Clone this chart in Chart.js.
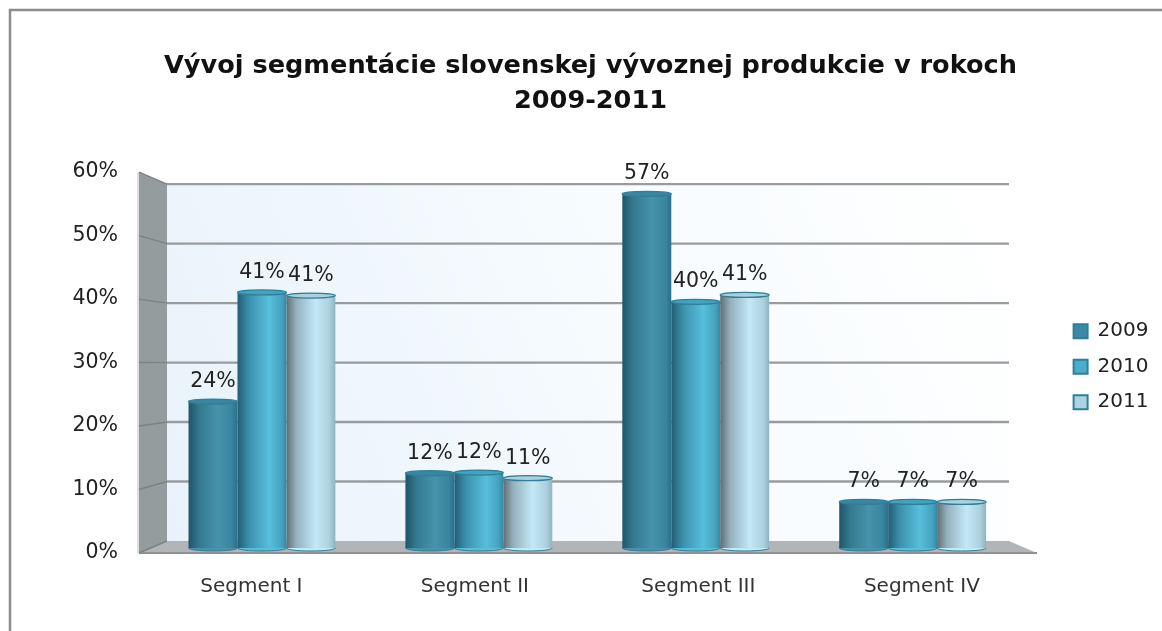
<!DOCTYPE html>
<html><head><meta charset="utf-8">
<script src="https://cdn.jsdelivr.net/npm/chart.js@4"></script>
<style>html,body{margin:0;padding:0;background:#fff}canvas{display:block}</style>
</head><body><canvas id="c" width="1162" height="631"></canvas>
<script>
const categories = ['Segment I','Segment II','Segment III','Segment IV'];
const seriesNames = ['2009','2010','2011'];
const values2009 = [23.5, 12, 56.8, 7.4];
const values2010 = [41, 12.1, 39.5, 7.4];
const values2011 = [40.5, 11.2, 40.6, 7.4];
const tickValues = [0,10,20,30,40,50,60];
const titleLines = ['Vývoj segmentácie slovenskej vývoznej produkcie v rokoch','2009-2011'];

const FONT = '"DejaVu Sans"';
const solid = ['#3a8aa6','#49aecb','#add2e0'];
const stops = [
  [[0,'#1f5568'],[.22,'#34798f'],[.6,'#4693ab'],[.88,'#3a859f'],[1,'#2a7089']],
  [[0,'#235e74'],[.25,'#3d93ae'],[.65,'#57bedb'],[.9,'#45a3c0'],[1,'#37879f']],
  [[0,'#5f6d73'],[.2,'#94b0bc'],[.6,'#c3e8f6'],[.88,'#acd0dd'],[1,'#8fb4c0']]
];
const CAT_FRAC = 0.677;
function barGeom(chart, di, i){
  const xs = chart.scales.x;
  const band = xs.getPixelForValue(1)-xs.getPixelForValue(0);
  const w = band*CAT_FRAC/3;
  const cx = xs.getPixelForValue(i)+(di-1)*w;
  return {cx,w};
}
function fill(c){
  if(c.type!=='data') return solid[c.datasetIndex];
  const g = barGeom(c.chart,c.datasetIndex,c.dataIndex);
  const gr = c.chart.ctx.createLinearGradient(g.cx-g.w/2,0,g.cx+g.w/2,0);
  stops[c.datasetIndex].forEach(s=>gr.addColorStop(s[0],s[1]));
  return gr;
}
const walls = {
  id:'walls',
  beforeDatasetsDraw(ch){
    const x=ch.ctx, t=ch.scales.y, w=ch.scales.yWall;
    const L=139,BL=167,BR=1009,R=1037;
    const top=w.getPixelForValue(60), bot=w.getPixelForValue(0);
    const ft=t.getPixelForValue(60), fb=t.getPixelForValue(0);
    x.save();
    let g=x.createLinearGradient(BL,bot,BR,top);
    g.addColorStop(0,'#e9f2fa');g.addColorStop(.55,'#f6fbfe');g.addColorStop(1,'#ffffff');
    x.fillStyle=g;x.fillRect(BL,top,BR-BL,bot-top);
    x.fillStyle='#959c9e';
    x.beginPath();x.moveTo(L,ft);x.lineTo(BL,top);x.lineTo(BL,bot);x.lineTo(L,fb);x.closePath();x.fill();
    x.strokeStyle='#dcdedf';x.lineWidth=2;x.beginPath();x.moveTo(L-1,ft);x.lineTo(L-1,fb);x.stroke();
    x.fillStyle='#b2b5b8';
    x.beginPath();x.moveTo(BL,bot);x.lineTo(BR,bot);x.lineTo(R,fb);x.lineTo(L,fb);x.closePath();x.fill();
    x.strokeStyle='#8f9294';x.lineWidth=2;x.beginPath();x.moveTo(L,fb);x.lineTo(R,fb);x.stroke();
    tickValues.forEach(v=>{
      const y=w.getPixelForValue(v), fy=t.getPixelForValue(v);
      x.strokeStyle='#7c8284';x.lineWidth=1.4;
      x.beginPath();x.moveTo(L,fy);x.lineTo(BL,y);x.stroke();
      if(v>0){x.strokeStyle='#999c9e';x.lineWidth=2.4;x.beginPath();x.moveTo(BL,y);x.lineTo(BR,y);x.stroke();}
    });
    ch.data.datasets.forEach((d,di)=>{
      d.data.forEach((v,i)=>{
        const g=barGeom(ch,di,i), b=ch.scales.yBar.getPixelForValue(0);
        x.fillStyle=stops[di][2][1];x.strokeStyle='#2f7f99';x.lineWidth=1;
        x.beginPath();x.ellipse(g.cx,b,g.w/2,3,0,0,Math.PI*2);x.fill();x.stroke();
      });
    });
    x.restore();
  },
  afterDatasetsDraw(ch){
    const x=ch.ctx,yb=ch.scales.yBar;
    x.save();
    ch.data.datasets.forEach((d,di)=>{
      d.data.forEach((v,i)=>{
        const g=barGeom(ch,di,i), y=yb.getPixelForValue(v);
        x.fillStyle=stops[di][3][1];x.strokeStyle='#2f7f99';x.lineWidth=1.2;
        x.beginPath();x.ellipse(g.cx,y,g.w/2,2.5,0,0,Math.PI*2);x.fill();x.stroke();
      });
    });
    x.font='20.5px '+FONT;x.fillStyle='#222';x.textAlign='center';x.textBaseline='middle';
    ch.data.datasets.forEach((d,di)=>{
      d.data.forEach((v,i)=>{
        const g=barGeom(ch,di,i), y=yb.getPixelForValue(v);
        x.fillText(Math.round(v)+'%',g.cx,y-20);
      });
    });
    x.restore();
  }
};
const frame={id:'frame',beforeDraw(ch){
  const x=ch.ctx;x.save();x.strokeStyle='#8c8c8c';x.lineWidth=2.5;
  x.beginPath();x.moveTo(10,631);x.lineTo(10,10);x.lineTo(1162,10);x.stroke();x.restore();
}};
new Chart(document.getElementById('c'),{
  type:'bar',
  data:{labels:categories,datasets:[values2009,values2010,values2011].map((v,i)=>({
    label:seriesNames[i],data:v,yAxisID:'yBar',backgroundColor:fill,borderWidth:0,
    borderColor:'#2f7f99',barPercentage:1,categoryPercentage:CAT_FRAC}))},
  options:{
    responsive:false,animation:false,
    layout:{padding:{left:22.5,right:3.5,top:49,bottom:18}},
    plugins:{
      tooltip:{enabled:false},
      title:{display:true,text:titleLines,color:'#111',font:{family:FONT,size:25.6,weight:'bold',lineHeight:1.37},padding:{top:0,bottom:53}},
      legend:{position:'right',fullSize:false,title:{display:true,text:' ',padding:0,font:{family:FONT,size:7}},
        labels:{boxWidth:14,boxHeight:14,padding:15.5,color:'#222',font:{family:FONT,size:20},
        generateLabels(ch){return seriesNames.map((n,i)=>({text:n,fillStyle:solid[i],strokeStyle:'#2f7f99',lineWidth:2,datasetIndex:i,fontColor:'#222'}));}}}
    },
    scales:{
      x:{display:false},
      xLabel:{axis:'x',type:'linear',position:'bottom',offset:false,min:-0.438,max:3.444,grid:{display:false,offset:false},border:{display:false},
        afterBuildTicks(s){s.ticks=categories.map((c,i)=>({value:i}));},
        ticks:{padding:14,autoSkip:false,color:'#333',font:{family:FONT,size:20},maxRotation:0,callback:v=>categories[v]}},
      y:{position:'left',min:0,max:60,grid:{display:false},border:{display:false},
        afterBuildTicks(s){s.ticks=tickValues.map(v=>({value:v}));},
        afterFit(s){s.width=131;},
        ticks:{padding:27.5,color:'#222',font:{family:FONT,size:20.5},callback:v=>v+'%'}},
      yBar:{axis:'y',display:false,min:-0.8,max:60.3},
      yWall:{axis:'y',position:'right',min:-2.017,max:62.02,grid:{display:false},border:{display:false},
        ticks:{display:false},afterFit(s){s.width=37;}}
    }
  },
  plugins:[frame,walls]
});
</script></body></html>
